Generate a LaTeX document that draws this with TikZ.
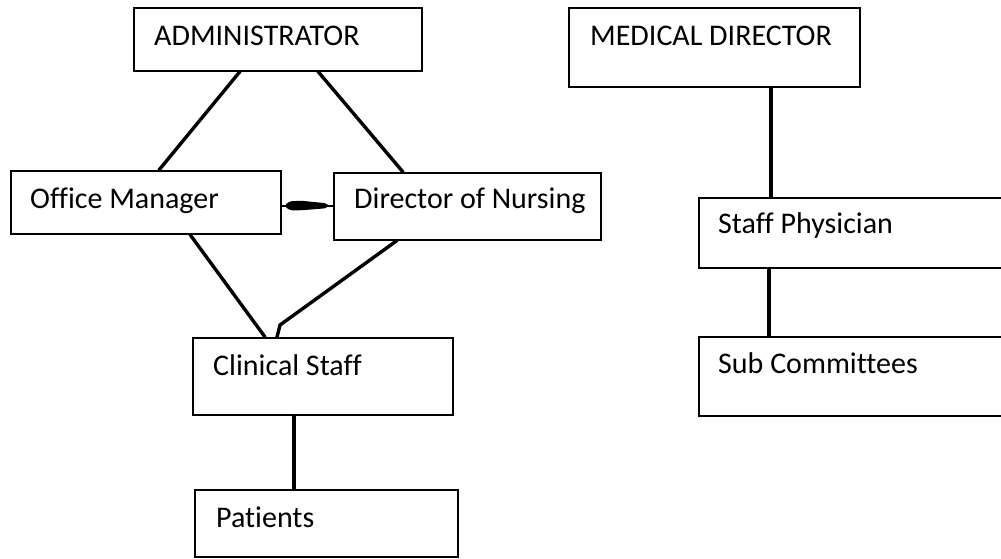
\documentclass[tikz,border=0pt]{standalone}
\usepackage{fontspec}
\setmainfont{Carlito}[Ligatures=NoCommon]
\usetikzlibrary{calc}
\begin{document}
\begin{tikzpicture}[x=1pt,y=-1pt,
  box/.style={draw, line width=1.5pt, inner sep=0pt, anchor=north west},
  lbl/.style={anchor=base west, inner sep=0pt, font=\fontsize{30}{35}\selectfont},
  link/.style={line width=3.4pt, line cap=round}]
\useasboundingbox (0,0) rectangle (1001,558);
\fill[white] (0,0) rectangle (1001,558);
\begin{scope}
\clip (0,0) rectangle (1001,558);
% boxes
\node[box, minimum width=288pt, minimum height=63pt] (adm) at (133,7) {};
\node[box, minimum width=270pt, minimum height=63pt] (om)  at (10,170) {};
\node[box, minimum width=267pt, minimum height=67pt] (dn)  at (333,172) {};
\node[box, minimum width=260pt, minimum height=77pt] (cs)  at (192,337) {};
\node[box, minimum width=263pt, minimum height=67pt] (pt)  at (194,489) {};
\node[box, minimum width=291pt, minimum height=79pt] (md)  at (568,7) {};
\node[box, minimum width=320pt, minimum height=70pt] (sp)  at (698,197) {};
\node[box, minimum width=320pt, minimum height=79pt] (sc)  at (698,336) {};
\end{scope}
% labels
\node[lbl] (tadm) at (154,45)  {ADMINISTRATOR};
\node[lbl] (tom)  at (30,208)  {Office Manager};
\node[lbl] (tdn)  at (354,208) {Director of Nursing};
\node[lbl] (tcs)  at (213,375) {Clinical Staff};
\node[lbl] (tpt)  at (216,527) {Patients};
\node[lbl] (tmd)  at (590,45)  {MEDICAL DIRECTOR};
\node[lbl] (tsp)  at (718,233) {Staff Physician};
\node[lbl] (tsc)  at (718,373) {Sub Committees};
% connectors
\draw[link] ($(adm.south west)+(107,0)$) -- ($(om.north west)+(149,0)$);
\draw[link] ($(adm.south west)+(185,0)$) -- ($(dn.north west)+(70,0)$);
\draw[link] ($(om.south west)+(180,0)$) -- ($(cs.north west)+(73,0)$);
\draw[link] ($(dn.south west)+(64,0)$) -- ($(cs.north west)+(88,-12)$) -- ($(cs.north west)+(85,0)$);
\draw[link] ($(cs.south west)+(102,0)$) -- ($(pt.north west)+(100,0)$);
\draw[link] ($(md.south west)+(203,0)$) -- ($(sp.north west)+(73,0)$);
\draw[link] ($(sp.south west)+(71,0)$) -- ($(sc.north west)+(71,0)$);
% link between office manager and director of nursing
\draw[line width=1.8pt] ($(om.east)+(0,3.5)$) coordinate (ob) -- ($(dn.west)+(0,-0.5)$);
\fill[rounded corners=2pt] ($(ob)+(3,0)$) -- ($(ob)+(8,-4.5)$) -- ($(ob)+(20,-5)$)
  -- ($(ob)+(45,-2.5)$) -- ($(ob)+(47,0)$) -- ($(ob)+(45,2.5)$) -- ($(ob)+(20,4.5)$)
  -- ($(ob)+(8,4.5)$) -- cycle;
\end{tikzpicture}
\end{document}
